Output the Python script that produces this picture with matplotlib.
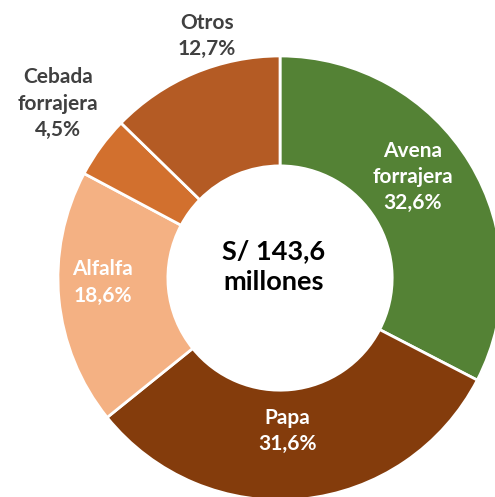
import numpy as np
import matplotlib.pyplot as plt

cultivos = ['Avena\nforrajera', 'Papa', 'Alfalfa', 'Cebada\nforrajera', 'Otros']
porcentajes = [32.6, 31.6, 18.6, 4.5, 12.7]
colores = ['#548235', '#843C0C', '#F4B183', '#D2702E', '#B45B24']
total_txt = 'S/ 143,6\nmillones'

# label placement (radius in units of the outer radius, extra angle in degrees)
lab_r = [0.75, 0.69, 0.80, 1.27, 1.14]
lab_da = [6, -3, -4, -2, -6]
lab_col = ['white', 'white', 'white', '#404040', '#404040']

plt.rcParams['font.family'] = ['Lato', 'DejaVu Sans']

fig = plt.figure(figsize=(4.95, 4.97), dpi=100)
ax = fig.add_axes([0, 0, 1, 1])
ax.set_aspect('equal')
ax.axis('off')

wedges, _ = ax.pie(porcentajes, colors=colores, startangle=90, counterclock=False,
                   radius=1.0, wedgeprops=dict(width=0.495, edgecolor='white', linewidth=2))

for w, nombre, p, r, da, c in zip(wedges, cultivos, porcentajes, lab_r, lab_da, lab_col):
    ang = np.deg2rad((w.theta1 + w.theta2) / 2 + da)
    txt = nombre + '\n' + f'{p:.1f}%'.replace('.', ',')
    ax.text(r * np.cos(ang), r * np.sin(ang), txt, ha='center', va='center',
            color=c, fontsize=15, fontweight='bold', linespacing=1.4)

ax.text(-0.03, 0.05, total_txt, ha='center', va='center', fontsize=19.5,
        fontweight='bold', color='black', linespacing=1.35)

ax.set_xlim(-1.261, 0.968)
ax.set_ylim(-0.986, 1.252)

fig.savefig('out.png', dpi=100)
